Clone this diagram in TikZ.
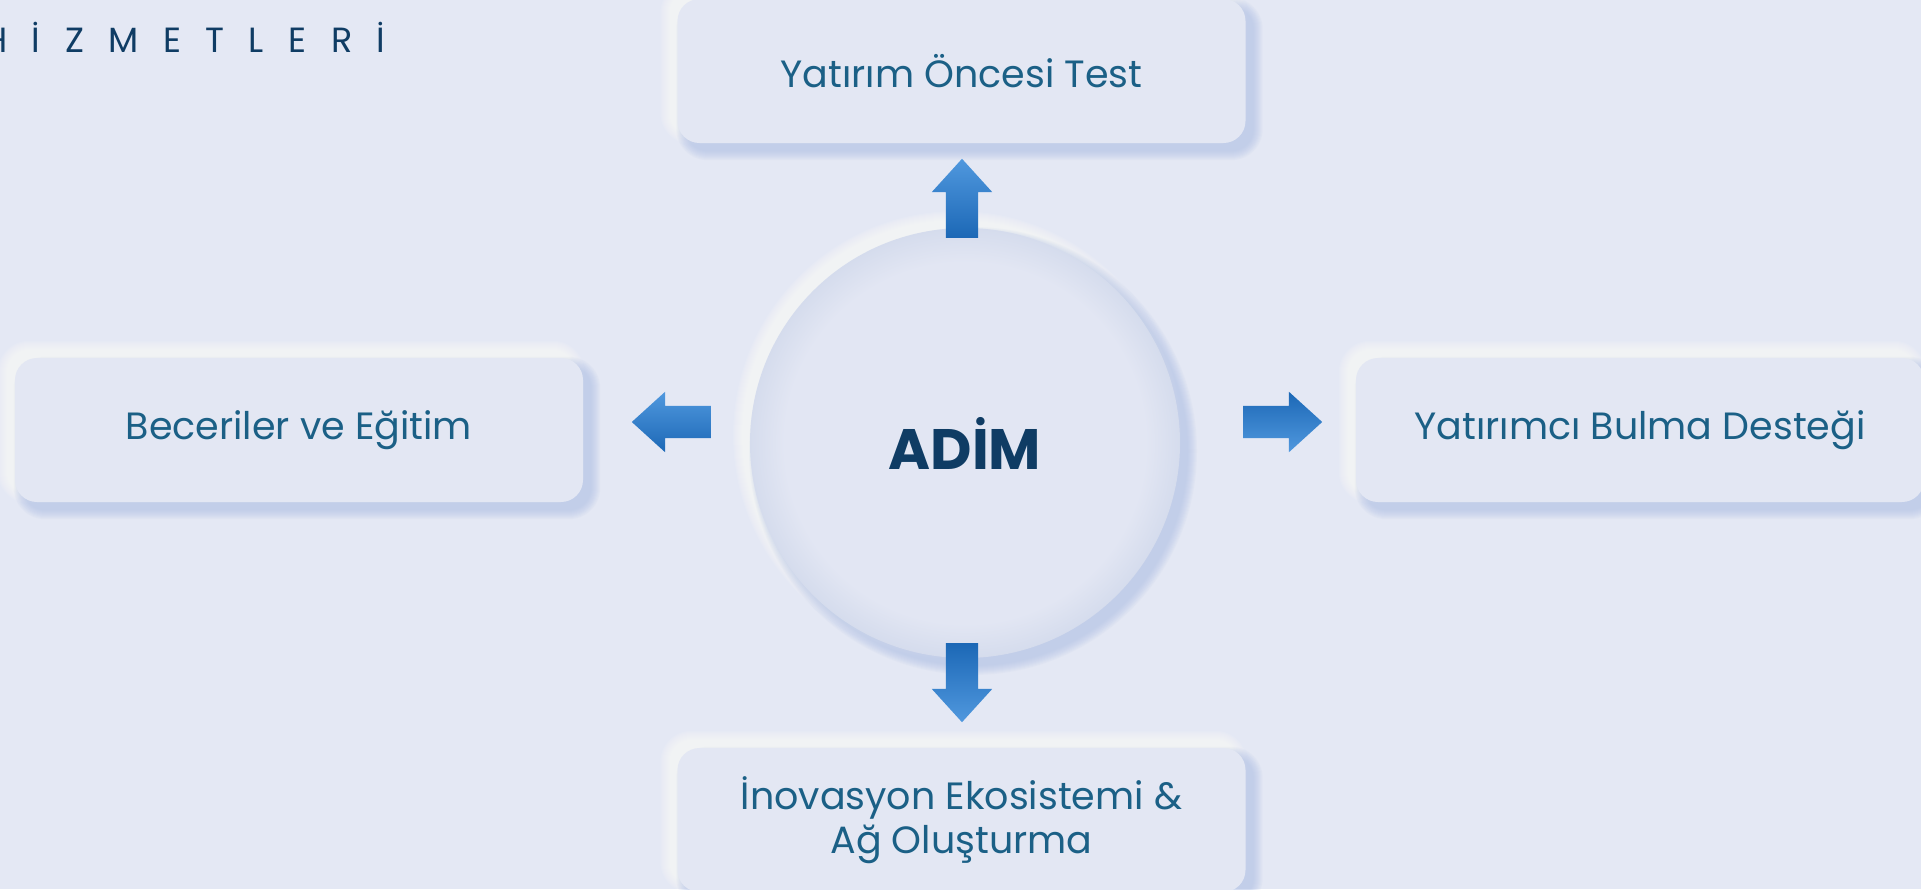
\documentclass[tikz,border=0pt]{standalone}
\usepackage{fontspec}
\setmainfont{Poppins}
\usetikzlibrary{calc,shapes.arrows}
\definecolor{adim_bg}{RGB}{228,232,244}
\definecolor{adim_card}{RGB}{227,231,243}
\definecolor{adim_disc}{RGB}{226,230,243}
\definecolor{adim_rim}{RGB}{213,220,237}
\definecolor{adim_shadow}{RGB}{170,188,228}
\definecolor{adim_text}{RGB}{27,96,134}
\definecolor{adim_navy}{RGB}{15,60,100}
\definecolor{adim_light}{RGB}{80,152,222}
\definecolor{adim_dark}{RGB}{28,104,182}
\pgfdeclarelayer{back}
\pgfdeclarelayer{glow}
\pgfsetlayers{back,glow,main}
\pgfdeclareradialshading{adimrim}{\pgfpoint{0bp}{0bp}}{color(0bp)=(adim_disc);
  color(21bp)=(adim_disc); color(25bp)=(adim_rim); color(50bp)=(adim_rim)}
\tikzset{
  card/.style={rectangle, rounded corners=22pt, fill=adim_card, minimum width=568pt,
    minimum height=144pt, inner sep=0pt, text=adim_text, align=center,
    font=\fontsize{38}{44}\selectfont},
  hub/.style={circle, minimum size=430pt, inner sep=0pt, shading=adimrim,
    text=adim_navy, font=\fontsize{57}{60}\selectfont\bfseries},
  blockarrow/.style={single arrow, single arrow head extend=14pt,
    single arrow tip angle=84.5, single arrow head indent=0pt, inner sep=0pt,
    text height=16pt, text depth=16pt, minimum height=79pt, anchor=tail},
  title/.style={text=adim_navy, font=\fontsize{35}{40}\selectfont, inner sep=0pt}
}
% soft glow round a card: white up-left, blue down-right
\newcommand\cardglow[2]{%
  \begin{pgfonlayer}{glow}
    \foreach \k in {0,...,9}{
      \fill[white, opacity=.09, rounded corners={(22+\k)*1pt}]
        ($(#1.north west)+(-#2-\k,-#2-\k)$) rectangle ($(#1.south east)+(-#2+\k,-#2+\k)$);}
    \foreach \k in {0,...,9}{
      \fill[adim_shadow, opacity=.07, rounded corners={(22+\k)*1pt}]
        ($(#1.north west)+(#2-\k,#2-\k)$) rectangle ($(#1.south east)+(#2+\k,#2+\k)$);}
  \end{pgfonlayer}}
% same for the hub
\newcommand\hubglow[2]{%
  \begin{pgfonlayer}{glow}
    \foreach \k in {0,...,9}{
      \fill[white, opacity=.09] ($(#1.center)+(-#2,-#2)$) circle[radius={(215+\k)*1pt}];}
    \foreach \k in {0,...,9}{
      \fill[adim_shadow, opacity=.07] ($(#1.center)+(#2,#2)$) circle[radius={(215+\k)*1pt}];}
  \end{pgfonlayer}}

\begin{document}
\begin{tikzpicture}[x=1pt,y=-1pt]
  \begin{pgfonlayer}{back}
    \fill[adim_bg] (0,0) rectangle (1921,889);
  \end{pgfonlayer}
  \useasboundingbox (0,0) rectangle (1921,889);

  \node[title, anchor=west] (hizmetleri) at (-17,37) {\addfontfeature{LetterSpace=70}HİZMETLERİ};

  \node[hub] (adim) at (965,443) {ADİM};
  \node[card] (test) at (961.5,71) {Yatırım Öncesi Test};
  \node[card] (ekosistem) at (961.5,820) {İnovasyon Ekosistemi \&\\Ağ Oluşturma};
  \node[card] (egitim) at (299,430) {Beceriler ve Eğitim};
  \node[card] (yatirimci) at (1640,430) {Yatırımcı Bulma Desteği};

  \hubglow{adim}{8}
  \cardglow{test}{8}
  \cardglow{ekosistem}{8}
  \cardglow{egitim}{8}
  \cardglow{yatirimci}{8}

  % arrows out of the hub
  \node[blockarrow, rotate=90, top color=adim_light, bottom color=adim_dark] (up) at (962,238) {};
  \node[blockarrow, rotate=-90, top color=adim_dark, bottom color=adim_light] (down) at (962,643) {};
  \node[blockarrow, rotate=180, top color=adim_light, bottom color=adim_dark] (left) at (711,422) {};
  \node[blockarrow, top color=adim_dark, bottom color=adim_light] (right) at (1243,422) {};
\end{tikzpicture}
\end{document}
